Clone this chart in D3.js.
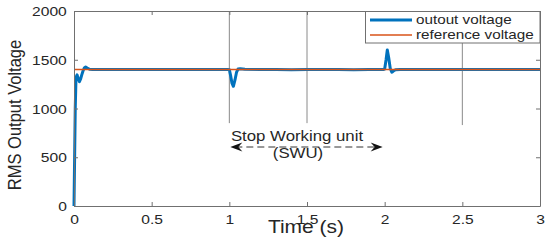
<!DOCTYPE html>
<meta charset="utf-8">
<style>
body { margin: 0; background: #fff; }
svg text { font-family: 'Liberation Sans', Arial, sans-serif; fill: #262626; }
.axis path, .axis line { stroke: #707070; }
</style>
<body>
<div id="chart"></div>
<script src="https://d3js.org/d3.v7.min.js"></script>
<script>
// data
var timeOut = [0, 0.004, 0.008, 0.013, 0.02, 0.028, 0.035, 0.042, 0.05, 0.058, 0.066, 0.075, 0.085, 0.1, 0.12,
  0.2, 0.3, 0.4, 0.5, 0.6, 0.7, 0.8, 0.9, 0.99,
  1.0, 1.008, 1.017, 1.026, 1.036, 1.046, 1.056, 1.07, 1.1,
  1.2, 1.3, 1.4, 1.5, 1.6, 1.7, 1.8, 1.9, 1.99,
  2.0, 2.009, 2.017, 2.026, 2.036, 2.046, 2.056, 2.07, 2.1,
  2.2, 2.4, 2.6, 2.8, 3.0];
var voltOut = [0, 500, 1000, 1320, 1345, 1300, 1275, 1300, 1345, 1385, 1415, 1425, 1415, 1402, 1399,
  1400, 1399, 1400, 1399, 1400, 1399, 1400, 1399, 1400,
  1398, 1340, 1260, 1228, 1290, 1370, 1405, 1408, 1402,
  1399, 1401, 1398, 1401, 1399, 1401, 1398, 1401, 1399,
  1405, 1500, 1600, 1520, 1410, 1372, 1385, 1398, 1401,
  1400, 1399, 1400, 1400, 1400];
var timeRef = [0, 3];
var voltRef = [1400, 1400];

var xTicks = [0, 0.5, 1, 1.5, 2, 2.5, 3];
var yTicks = [0, 500, 1000, 1500, 2000];

var markTimes = [1, 1.5, 2.5];      // vertical marker lines
var markBottom = [850, 850, 830];
var swuStart = 1, swuEnd = 2, swuLevel = 605;

var seriesNames = ["outout voltage", "reference voltage"];
var seriesColors = ["#0072BD", "#D95319"];

var width = 550, height = 243;
var margin = {left: 74, right: 10, top: 11, bottom: 37};

var svg = d3.select("#chart").append("svg")
    .attr("width", width)
    .attr("height", height);

var x = d3.scaleLinear().domain([0, 3]).range([margin.left, width - margin.right]);
var y = d3.scaleLinear().domain([0, 2000]).range([height - margin.bottom, margin.top]);

// vertical marker lines
svg.append("g").selectAll("line")
    .data(markTimes)
  .enter().append("line")
    .attr("x1", function(d) { return x(d); })
    .attr("x2", function(d) { return x(d); })
    .attr("y1", y(2000))
    .attr("y2", function(d, i) { return y(markBottom[i]); })
    .attr("stroke", "#8a8a8a")
    .attr("stroke-width", 1);

// lines
var line = d3.line()
    .x(function(d) { return x(d[0]); })
    .y(function(d) { return y(d[1]); });

svg.append("path")
    .datum(d3.zip(timeOut, voltOut))
    .attr("fill", "none")
    .attr("stroke", seriesColors[0])
    .attr("stroke-width", 3)
    .attr("stroke-linejoin", "round")
    .attr("d", line);

svg.append("path")
    .datum(d3.zip(timeRef, voltRef))
    .attr("fill", "none")
    .attr("stroke", seriesColors[1])
    .attr("stroke-width", 1.5)
    .attr("d", line);

// axes, ticks inward like matlab
var axisG = svg.append("g").attr("class", "axis");
axisG.append("g")
    .attr("transform", "translate(0," + y(0) + ")")
    .call(d3.axisBottom(x).tickValues(xTicks).tickFormat(d3.format("")).tickSize(-4).tickPadding(0).tickSizeOuter(0))
    .selectAll("text")
    .attr("y", 18)
    .attr("dy", 0)
    .attr("font-size", 13)
    .attr("transform", "scale(1.2,1)");
axisG.append("g")
    .attr("transform", "translate(0," + y(2000) + ")")
    .call(d3.axisTop(x).tickValues(xTicks).tickFormat("").tickSize(-4).tickSizeOuter(0));
axisG.append("g")
    .attr("transform", "translate(" + x(0) + ",0)")
    .call(d3.axisLeft(y).tickValues(yTicks).tickFormat(d3.format("d")).tickSize(-4).tickSizeOuter(0))
    .selectAll("text")
    .attr("x", -6)
    .attr("dy", "0.36em")
    .attr("font-size", 13)
    .attr("transform", "scale(1.2,1)");
axisG.append("g")
    .attr("transform", "translate(" + x(3) + ",0)")
    .call(d3.axisRight(y).tickValues(yTicks).tickFormat("").tickSize(-4).tickSizeOuter(0));
axisG.selectAll(".domain").attr("stroke", "#707070");

// axis titles
svg.append("text")
    .attr("transform", "translate(" + (x(1.5) - 1) + ",233) scale(1.2,1)")
    .attr("text-anchor", "middle")
    .attr("font-size", 17.5)
    .text("Time (s)");

svg.append("text")
    .attr("transform", "translate(21,115) rotate(-90) scale(1,1.15)")
    .attr("text-anchor", "middle")
    .attr("font-size", 16.5)
    .text("RMS Output Voltage");

// SWU annotation
var ay = y(swuLevel);
svg.append("line")
    .attr("x1", x(swuStart) + 6)
    .attr("x2", x(swuEnd) - 6)
    .attr("y1", ay)
    .attr("y2", ay)
    .attr("stroke", "#333")
    .attr("stroke-width", 1)
    .attr("stroke-dasharray", "7,4");

function head(tipX, dir) {
  var p = d3.path();
  p.moveTo(tipX, ay);
  p.lineTo(tipX - dir * 12, ay - 4.5);
  p.lineTo(tipX - dir * 8, ay);
  p.lineTo(tipX - dir * 12, ay + 4.5);
  p.closePath();
  return p.toString();
}
svg.append("path").attr("d", head(x(swuStart) + 1, -1)).attr("fill", "#111");
svg.append("path").attr("d", head(x(swuEnd) - 2, 1)).attr("fill", "#111");

var mid = (x(swuStart) + x(swuEnd)) / 2;
svg.append("text")
    .attr("transform", "translate(" + (mid - 10) + ",141) scale(1.2,1)")
    .attr("text-anchor", "middle")
    .attr("font-size", 14)
    .text("Stop Working unit");
svg.append("text")
    .attr("transform", "translate(" + (mid - 9) + ",158) scale(1.2,1)")
    .attr("text-anchor", "middle")
    .attr("font-size", 14)
    .text("(SWU)");

// legend
var legend = svg.append("g");
legend.append("rect")
    .attr("x", 365.5)
    .attr("y", 11.5)
    .attr("width", x(3) - 365.5)
    .attr("height", 31.5)
    .attr("fill", "#fff")
    .attr("stroke", "#707070");
var items = legend.selectAll("g.item")
    .data(seriesNames)
  .enter().append("g")
    .attr("class", "item")
    .attr("transform", function(d, i) { return "translate(0," + (20 + i * 15) + ")"; });
items.append("line")
    .attr("x1", 370)
    .attr("x2", 412)
    .attr("stroke", function(d, i) { return seriesColors[i]; })
    .attr("stroke-width", function(d, i) { return i === 0 ? 3 : 1.5; });
items.append("text")
    .attr("transform", "translate(416,0) scale(1.2,1)")
    .attr("dy", "0.35em")
    .attr("font-size", 12.7)
    .text(function(d) { return d; });
</script>
</body>
